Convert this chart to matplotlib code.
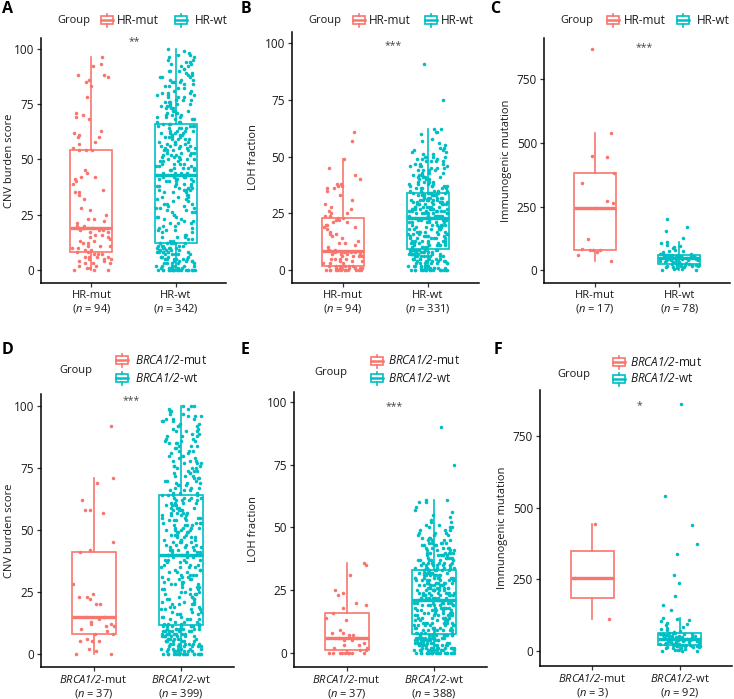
import numpy as np
import matplotlib
matplotlib.use("Agg")
import matplotlib.pyplot as plt
from matplotlib.patches import Rectangle

plt.rcParams["font.family"] = ["Open Sans", "DejaVu Sans"]
# only the italic bits (n, BRCA1/2) go through mathtext, so both slots are italic
plt.rcParams["mathtext.fontset"] = "custom"
plt.rcParams["mathtext.rm"] = "Open Sans:italic"
plt.rcParams["mathtext.it"] = "Open Sans:italic"

# ==================== data ====================
COL_MUT = "#F8766D"
COL_WT = "#00BFC4"

# A: CNV burden score, HR-mut / HR-wt
cnv_hr_mut = [
    0, 0, 0, 1, 1, 2, 2, 3, 3, 3, 4, 4, 5, 5, 5, 6, 6, 6, 6, 7, 7, 7, 8,
    8, 9, 9, 10, 10, 11, 11, 11, 12, 12, 13, 13, 14, 15, 15, 16, 16, 17, 17, 18, 18, 18, 19, 19,
    19, 20, 20, 21, 22, 23, 23, 25, 27, 28, 32, 34, 35, 35, 36, 39, 40, 41, 42, 42, 44, 45, 54, 54,
    54, 55, 57, 58, 60, 60, 61, 62, 63, 68, 69, 70, 71, 78, 83, 85, 86, 87, 88, 88, 92, 93, 96,
]
cnv_hr_wt = [
    0, 0, 0, 0, 0, 0, 0, 0, 0, 0, 0, 0, 0, 0, 0, 0, 0, 0, 0, 0,
    1, 1, 1, 1, 1, 2, 2, 2, 2, 2, 2, 3, 3, 3, 3, 3, 4, 4, 4, 4, 4, 5, 5, 5, 5, 5, 5,
    6, 6, 6, 6, 6, 7, 7, 7, 7, 7, 8, 8, 8, 8, 8, 8, 9, 9, 9, 9, 9,
    10, 10, 10, 10, 10, 10, 11, 11, 11, 11, 11, 12, 12, 12, 12, 12, 12, 12,
    13, 13, 14, 14, 15, 15, 15, 16, 16, 17, 17, 18, 18, 18, 19, 19, 20, 20, 21, 21, 21,
    22, 22, 23, 23, 24, 24, 24, 25, 25, 26, 26, 26, 27, 27, 28, 28, 28, 29, 29, 30, 30, 30,
    31, 31, 32, 32, 33, 33, 33, 34, 34,
    35, 35, 35, 36, 36, 36, 36, 37, 37, 37, 38, 38, 38, 38, 39, 39, 39, 40, 40, 40, 40,
    41, 41, 41, 41, 42, 42, 42, 42, 43, 43, 43, 43,
    43, 44, 44, 44, 44, 45, 45, 45, 46, 46, 46, 46, 47, 47, 47, 48, 48, 48, 48, 49, 49, 49,
    50, 50, 50, 50, 51, 51, 51, 52, 52, 52, 52, 53, 53, 53, 53, 54, 54, 54, 54, 55, 55, 55, 55,
    56, 56, 56, 56, 57, 57, 57, 57, 58, 58, 58, 58, 59, 59, 59, 59, 60, 60, 60, 60,
    61, 61, 61, 61, 62, 62, 62, 62, 63, 63, 63, 63, 64, 64, 64, 64, 65, 65, 65, 65,
    66, 66, 66, 67, 67, 67, 68, 68, 68, 69, 69, 69, 70, 70, 70, 71, 71, 71, 72, 72, 72,
    73, 73, 73, 74, 74, 74, 75, 75, 75, 76, 76, 76, 77, 77, 77, 78, 78, 78, 79, 79, 79,
    80, 80, 80, 81, 81, 82, 82, 83, 83, 84, 84, 85, 85, 85, 86, 86, 86, 87, 87, 87,
    88, 88, 89, 89, 90, 90, 90, 91, 91, 92, 92, 93, 93, 94, 94, 95, 95, 96, 96, 97, 97,
    98, 99, 100,
]

# B: LOH fraction, HR-mut / HR-wt
loh_hr_mut = [
    0, 0, 0, 0, 0, 0, 0, 0, 0, 0, 0, 0, 1, 1, 1, 1, 1, 1, 1, 2, 2, 2, 2, 2,
    2, 3, 3, 3, 4, 4, 4, 5, 5, 5, 5, 6, 6, 6, 6, 7, 7, 7, 7, 8, 8, 8, 8,
    9, 9, 9, 10, 11, 12, 12, 13, 14, 15, 16, 16, 17, 18, 19, 19, 20, 20, 21, 21, 22, 22, 23, 23,
    24, 24, 25, 25, 26, 27, 28, 29, 31, 33, 35, 36, 36, 37, 37, 38, 38, 40, 42, 45, 49, 57, 61,
]
loh_hr_wt = [
    0, 0, 0, 0, 0, 0, 0, 0, 0, 0, 0, 0, 0, 0, 0,
    1, 1, 1, 1, 1, 1, 1, 2, 2, 2, 2, 2, 2, 2, 3, 3, 3, 3, 3, 3, 3, 4, 4, 4, 4, 4, 4, 4,
    5, 5, 5, 5, 5, 5, 5, 5, 6, 6, 6, 6, 6, 6, 6, 6, 7, 7, 7, 7, 7, 7, 7, 7,
    8, 8, 8, 8, 8, 8, 8, 8, 9, 9, 9, 9, 9, 9, 9, 9,
    10, 10, 10, 10, 10, 11, 11, 11, 11, 11, 11, 12, 12, 12, 12, 12, 12, 13, 13, 13, 13, 13, 13,
    14, 14, 14, 14, 14, 14, 15, 15, 15, 15, 15, 15, 16, 16, 16, 16, 16, 16, 17, 17, 17, 17, 17, 17,
    18, 18, 18, 18, 18, 18, 19, 19, 19, 19, 19, 19, 20, 20, 20, 20, 20, 20, 21, 21, 21, 21, 21, 21,
    22, 22, 22, 22, 22, 22, 23, 23, 23, 23, 23, 23,
    24, 24, 24, 24, 24, 24, 24, 25, 25, 25, 25, 25, 25, 25, 25, 26, 26, 26, 26, 26, 26, 26,
    27, 27, 27, 27, 27, 27, 27, 27, 28, 28, 28, 28, 28, 28, 28, 29, 29, 29, 29, 29, 29, 29, 29,
    30, 30, 30, 30, 30, 30, 30, 31, 31, 31, 31, 31, 31, 31, 31, 32, 32, 32, 32, 32, 32, 32,
    33, 33, 33, 33, 33, 33, 33, 33, 34, 34, 34, 34, 34, 34, 34, 34,
    35, 35, 35, 35, 35, 36, 36, 36, 36, 36, 37, 37, 37, 37, 37, 38, 38, 38, 38, 39, 39, 39, 39,
    40, 40, 40, 40, 41, 41, 41, 41, 42, 42, 42, 42, 43, 43, 43, 44, 44, 44, 44, 45, 45, 45,
    46, 46, 46, 46, 47, 47, 47, 48, 48, 48, 48, 49, 49, 49, 50, 50, 50, 50,
    51, 51, 52, 52, 53, 53, 54, 54, 55, 56, 57, 58, 60, 61, 61, 62, 62, 75, 91,
]

# C: immunogenic mutation, HR-mut / HR-wt
imm_hr_mut = [35, 60, 72, 78, 79, 80, 82, 122, 245, 262, 271, 343, 380, 445, 450, 541, 868]
imm_hr_wt = [
    0, 0, 3, 5, 8, 10, 12, 13, 14, 15, 16, 17, 18, 19, 20, 20, 21, 21, 22,
    23, 25, 27, 29, 30, 32, 33, 35, 36, 38, 39, 40, 41, 42, 43, 43, 44, 45, 45, 46,
    46, 47, 48, 48, 49, 50, 51, 52, 52, 53, 54, 55, 55, 56, 57, 57, 58, 58, 59,
    60, 61, 62, 63, 65, 67, 70, 73, 76, 80, 85, 90, 95, 100, 105, 110, 128, 153, 168, 199,
]

# D: CNV burden score, BRCA1/2-mut / BRCA1/2-wt
cnv_brca_mut = [
    0, 0, 1, 2, 5, 5, 5, 6, 8, 8, 9, 10, 11, 11, 12, 12, 13, 14, 15,
    15, 20, 20, 22, 23, 23, 24, 28, 41, 42, 45, 57, 58, 58, 62, 69, 71, 92,
]
cnv_brca_wt = [
    0, 0, 0, 0, 0, 0, 0, 0, 0, 0, 0, 0, 0, 0, 0, 0, 0, 0,
    1, 1, 1, 1, 1, 1, 1, 2, 2, 2, 2, 2, 2, 2, 3, 3, 3, 3, 3, 3, 3, 4, 4, 4, 4, 4, 4, 4,
    5, 5, 5, 5, 5, 5, 5, 6, 6, 6, 6, 6, 6, 6, 7, 7, 7, 7, 7, 7, 7, 7, 8, 8, 8, 8, 8, 8, 8, 8,
    9, 9, 9, 9, 9, 9, 9, 9, 10, 10, 10, 10, 10, 10, 10, 10, 11, 11, 11, 11, 11, 11, 11, 11,
    12, 12, 12, 12, 13, 13, 13, 14, 14, 14, 14, 15, 15, 15, 16, 16, 16, 16, 17, 17, 17,
    18, 18, 18, 18, 19, 19, 19, 20, 20, 20, 20, 21, 21, 21, 22, 22, 22, 22, 23, 23, 23,
    24, 24, 24, 24, 25, 25, 25, 26, 26, 26, 26, 27, 27, 27, 28, 28, 28, 28, 29, 29, 29,
    30, 30, 30, 30, 31, 31, 31, 32, 32, 32, 32, 33, 33, 33, 34, 34, 34, 35, 35, 35, 35,
    36, 36, 36, 37, 37, 37, 38, 38, 38, 38, 39, 39, 39, 40, 40, 40,
    40, 40, 40, 40, 41, 41, 41, 41, 42, 42, 42, 42, 43, 43, 43, 43, 44, 44, 44, 44,
    45, 45, 45, 45, 46, 46, 46, 46, 47, 47, 47, 47, 48, 48, 48, 48, 49, 49, 49, 49,
    50, 50, 50, 50, 51, 51, 51, 51, 52, 52, 52, 52, 53, 53, 53, 53, 54, 54, 54, 54,
    55, 55, 55, 55, 56, 56, 56, 56, 57, 57, 57, 57, 58, 58, 58, 58, 59, 59, 59, 59,
    60, 60, 60, 60, 61, 61, 61, 61, 62, 62, 62, 62, 63, 63, 63, 63, 64, 64, 64, 64,
    65, 65, 65, 66, 66, 66, 67, 67, 67, 68, 68, 68, 69, 69, 69, 70, 70, 70, 71, 71, 71,
    72, 72, 72, 73, 73, 73, 74, 74, 74, 75, 75, 75, 76, 76, 76, 77, 77, 77, 78, 78, 78,
    79, 79, 80, 80, 80, 81, 81, 82, 82, 82, 83, 83, 84, 84, 84, 85, 85, 85, 86, 86, 86,
    87, 87, 88, 88, 88, 89, 89, 90, 90, 90, 91, 91, 92, 92, 92, 93, 93, 94, 94, 94,
    95, 95, 95, 96, 96, 96, 97, 97, 98, 98, 98, 99, 99, 100, 100, 100,
]

# E: LOH fraction, BRCA1/2-mut / BRCA1/2-wt
loh_brca_mut = [
    0, 0, 0, 0, 0, 0, 0, 0, 0, 1, 1, 2, 2, 3, 3, 4, 5, 5, 6,
    6, 7, 7, 8, 8, 9, 13, 14, 16, 18, 19, 20, 23, 24, 25, 31, 35, 36,
]
loh_brca_wt = [
    0, 0, 0, 0, 0, 0, 0, 0, 0, 0, 0, 0, 0, 0, 0, 0, 0, 0, 0, 0,
    1, 1, 1, 1, 1, 1, 1, 1, 1, 1, 1, 2, 2, 2, 2, 2, 2, 2, 2, 2, 2, 2,
    3, 3, 3, 3, 3, 3, 3, 3, 3, 3, 3, 4, 4, 4, 4, 4, 4, 4, 4, 4, 4, 4,
    5, 5, 5, 5, 5, 5, 5, 5, 5, 5, 5, 6, 6, 6, 6, 6, 6, 6, 6, 6, 6, 6,
    7, 7, 7, 7, 7, 7, 7, 7, 7, 7, 7,
    8, 8, 8, 8, 8, 8, 9, 9, 9, 9, 9, 9, 9, 10, 10, 10, 10, 10, 10, 10,
    11, 11, 11, 11, 11, 11, 11, 12, 12, 12, 12, 12, 12, 12, 13, 13, 13, 13, 13, 13, 13,
    14, 14, 14, 14, 14, 14, 14, 15, 15, 15, 15, 15, 15, 15, 16, 16, 16, 16, 16, 16, 16,
    17, 17, 17, 17, 17, 17, 17, 18, 18, 18, 18, 18, 18, 18, 19, 19, 19, 19, 19, 19, 19,
    20, 20, 20, 20, 20, 20, 20, 21, 21, 21, 21, 21, 21, 21,
    21, 22, 22, 22, 22, 22, 22, 22, 22, 23, 23, 23, 23, 23, 23, 23, 23,
    24, 24, 24, 24, 24, 24, 24, 24, 25, 25, 25, 25, 25, 25, 25, 25,
    26, 26, 26, 26, 26, 26, 26, 26, 27, 27, 27, 27, 27, 27, 27, 27,
    28, 28, 28, 28, 28, 28, 28, 28, 29, 29, 29, 29, 29, 29, 29, 29,
    30, 30, 30, 30, 30, 30, 30, 30, 31, 31, 31, 31, 31, 31, 31, 31,
    32, 32, 32, 32, 32, 32, 32, 32, 33, 33, 33, 33, 33, 33, 33, 33,
    34, 34, 34, 34, 34, 34, 34, 35, 35, 35, 35, 35, 35, 35,
    36, 36, 36, 36, 36, 36, 37, 37, 37, 37, 37, 37, 38, 38, 38, 38, 38, 38,
    39, 39, 39, 39, 39, 39, 40, 40, 40, 40, 40, 40,
    41, 41, 41, 41, 42, 42, 42, 42, 42, 43, 43, 43, 43, 44, 44, 44, 44, 44, 45, 45, 45, 45,
    46, 46, 46, 47, 47, 47, 48, 48, 48, 49, 49, 49, 50, 50, 50, 51, 51, 52, 52,
    53, 54, 55, 56, 57, 58, 60, 60, 61, 61, 75, 90,
]

# F: immunogenic mutation, BRCA1/2-mut / BRCA1/2-wt
imm_brca_mut = [114, 255, 442]
imm_brca_wt = [
    0, 0, 2, 4, 6, 8, 10, 12, 13, 14, 15, 16, 17, 18, 18, 19, 20, 20, 21, 21, 22, 22, 23,
    24, 25, 26, 27, 28, 29, 30, 31, 32, 33, 34, 35, 36, 37, 38, 39, 40, 41, 41, 42, 43, 43, 44,
    44, 45, 46, 47, 48, 49, 50, 51, 52, 53, 54, 55, 56, 57, 58, 59, 60, 61, 62, 62, 63, 64, 65,
    66, 70, 75, 78, 80, 85, 90, 95, 100, 105, 110, 114, 117, 145, 160, 193, 239, 265, 337,
    373, 438, 540, 862,
]

hr_groups = ["HR-mut", "HR-wt"]
brca_groups = [r"$BRCA1/2$-mut", r"$BRCA1/2$-wt"]
n_hr_cnv = [94, 342]
n_hr_loh = [94, 331]
n_hr_imm = [17, 78]
n_brca_cnv = [37, 399]
n_brca_loh = [37, 388]
n_brca_imm = [3, 92]
signif = ["**", "***", "***", "***", "***", "*"]
ylabels = ["CNV burden score", "LOH fraction", "Immunogenic mutation"]
yticks_pct = [0, 25, 50, 75, 100]
yticks_imm = [0, 250, 500, 750]

# ==================== layout (pixels) ====================
W, H = 734, 699
fig = plt.figure(figsize=(W / 100, H / 100), dpi=100)


def px_axes(l, t, r, b):
    return fig.add_axes([l / W, 1 - b / H, (r - l) / W, (b - t) / H])


def jitter(n, half=0.23):
    # deterministic horizontal spread of the points
    i = np.arange(n) + 1
    frac = np.sin(i * 12.9898) * 43758.5453
    frac = frac - np.floor(frac)
    return (frac - 0.5) * 2 * half


panels = [
    # axes box (l, t, r, b), data, groups, n, ylim, yticks, ylabel x
    ((41, 38, 226, 283), (cnv_hr_mut, cnv_hr_wt), hr_groups, n_hr_cnv, (-5.9, 104.8), yticks_pct, 10),
    ((292, 32, 479, 283), (loh_hr_mut, loh_hr_wt), hr_groups, n_hr_loh, (-5.7, 105.0), yticks_pct, 253),
    ((544, 38, 730, 283), (imm_hr_mut, imm_hr_wt), hr_groups, n_hr_imm, (-51, 913), yticks_imm, 507),
    ((41, 394, 234, 667), (cnv_brca_mut, cnv_brca_wt), brca_groups, n_brca_cnv, (-5.4, 105.0), yticks_pct, 10),
    ((294, 392, 487, 667), (loh_brca_mut, loh_brca_wt), brca_groups, n_brca_loh, (-5.6, 104.0), yticks_pct, 253),
    ((540, 390, 732, 666), (imm_brca_mut, imm_brca_wt), brca_groups, n_brca_imm, (-51, 909), yticks_imm, 502),
]
letter_pos = [(2, 9), (241, 9), (490, 9), (2, 350), (241, 350), (494, 350)]
star_pos = [(134, 42), (393, 46), (644, 48), (131, 401), (394, 407), (639, 406)]

TXT = "#1a1a1a"

for k, (box, data, groups, ns, ylim, yticks, ylab_x) in enumerate(panels):
    l, t, r, b = box
    ax = px_axes(l, t, r, b)
    cols = [COL_MUT, COL_WT]
    bp = ax.boxplot(
        data, positions=[1, 2], widths=0.5, showcaps=False, showfliers=False,
        patch_artist=True, whis=1.5,
    )
    for j, c in enumerate(cols):
        bp["boxes"][j].set(facecolor="white", edgecolor=c, linewidth=1.2, zorder=1)
        bp["medians"][j].set(color=c, linewidth=2.4, zorder=1.5, solid_capstyle="butt")
        for w in bp["whiskers"][2 * j:2 * j + 2]:
            w.set(color=c, linewidth=1.2, zorder=1)
        vals = np.asarray(data[j], dtype=float)
        ax.scatter(1 + j + jitter(len(vals)), vals, s=6.5, color=c, linewidths=0, zorder=3)

    ax.set_xlim(0.4, 2.6)
    ax.set_ylim(*ylim)
    ax.set_yticks(yticks)
    ax.set_yticklabels([str(v) for v in yticks])
    ax.set_xticks([1, 2])
    ax.set_xticklabels(
        [f"{g}\n($n$ = {n})" for g, n in zip(groups, ns)], linespacing=1.1
    )
    for s in ["top", "right"]:
        ax.spines[s].set_visible(False)
    for s in ["left", "bottom"]:
        ax.spines[s].set_linewidth(1.1)
        ax.spines[s].set_color("black")
    ax.tick_params(length=3, width=0.9, color="#333333", labelsize=8, labelcolor=TXT, pad=2)
    ax.tick_params(axis="y", labelsize=8.5)
    ax.set_ylabel(ylabels[k % 3], fontsize=8, color=TXT)
    ax.yaxis.label.set_va("center")
    ax.yaxis.set_label_coords((ylab_x - l) / (r - l), 0.5)

# overlay in pixel coordinates for legends, letters and significance marks
ov = fig.add_axes([0, 0, 1, 1])
ov.set_xlim(0, W)
ov.set_ylim(H, 0)
ov.axis("off")


def key_glyph(cx, cy, c):
    ov.add_patch(Rectangle((cx - 6, cy - 4), 12, 8, facecolor="white", edgecolor=c, lw=1.2))
    ov.plot([cx - 6, cx + 6], [cy, cy], color=c, lw=1.8)
    ov.plot([cx, cx], [cy - 6.5, cy - 4], color=c, lw=1.2)
    ov.plot([cx, cx], [cy + 4, cy + 6.5], color=c, lw=1.2)


legend_rows_top = [
    # group title x, key1 x, label1 x, key2 x, label2 x
    (57, 107, 117, 181, 195),
    (308, 359, 369, 431, 441),
    (560, 613, 624, 683, 697),
]
for gx, k1, l1, k2, l2 in legend_rows_top:
    y = 20
    ov.text(gx, y, "Group", fontsize=8, color=TXT, va="center", ha="left")
    key_glyph(k1, y, COL_MUT)
    ov.text(l1, y, hr_groups[0], fontsize=8.5, color=TXT, va="center", ha="left")
    key_glyph(k2, y, COL_WT)
    ov.text(l2, y, hr_groups[1], fontsize=8.5, color=TXT, va="center", ha="left")

legend_rows_bot = [
    # group x, group y, key x, label x, row1 y, row2 y
    (59, 370, 122, 135, 360, 378),
    (314, 372, 377, 388, 361, 378),
    (557, 374, 619, 630, 362, 379),
]
for gx, gy, kx, lx, y1, y2 in legend_rows_bot:
    ov.text(gx, gy, "Group", fontsize=8, color=TXT, va="center", ha="left")
    key_glyph(kx, y1, COL_MUT)
    ov.text(lx, y1, brca_groups[0], fontsize=8.5, color=TXT, va="center", ha="left")
    key_glyph(kx, y2, COL_WT)
    ov.text(lx, y2, brca_groups[1], fontsize=8.5, color=TXT, va="center", ha="left")

for (x, y), letter in zip(letter_pos, "ABCDEF"):
    ov.text(x, y, letter, fontsize=11.5, fontweight="bold", color="black", va="center", ha="left")

for (x, y), s in zip(star_pos, signif):
    ov.text(x, y, s, fontsize=7.5, color="#444444", va="center", ha="center")

fig.savefig("out.png", dpi=100)
